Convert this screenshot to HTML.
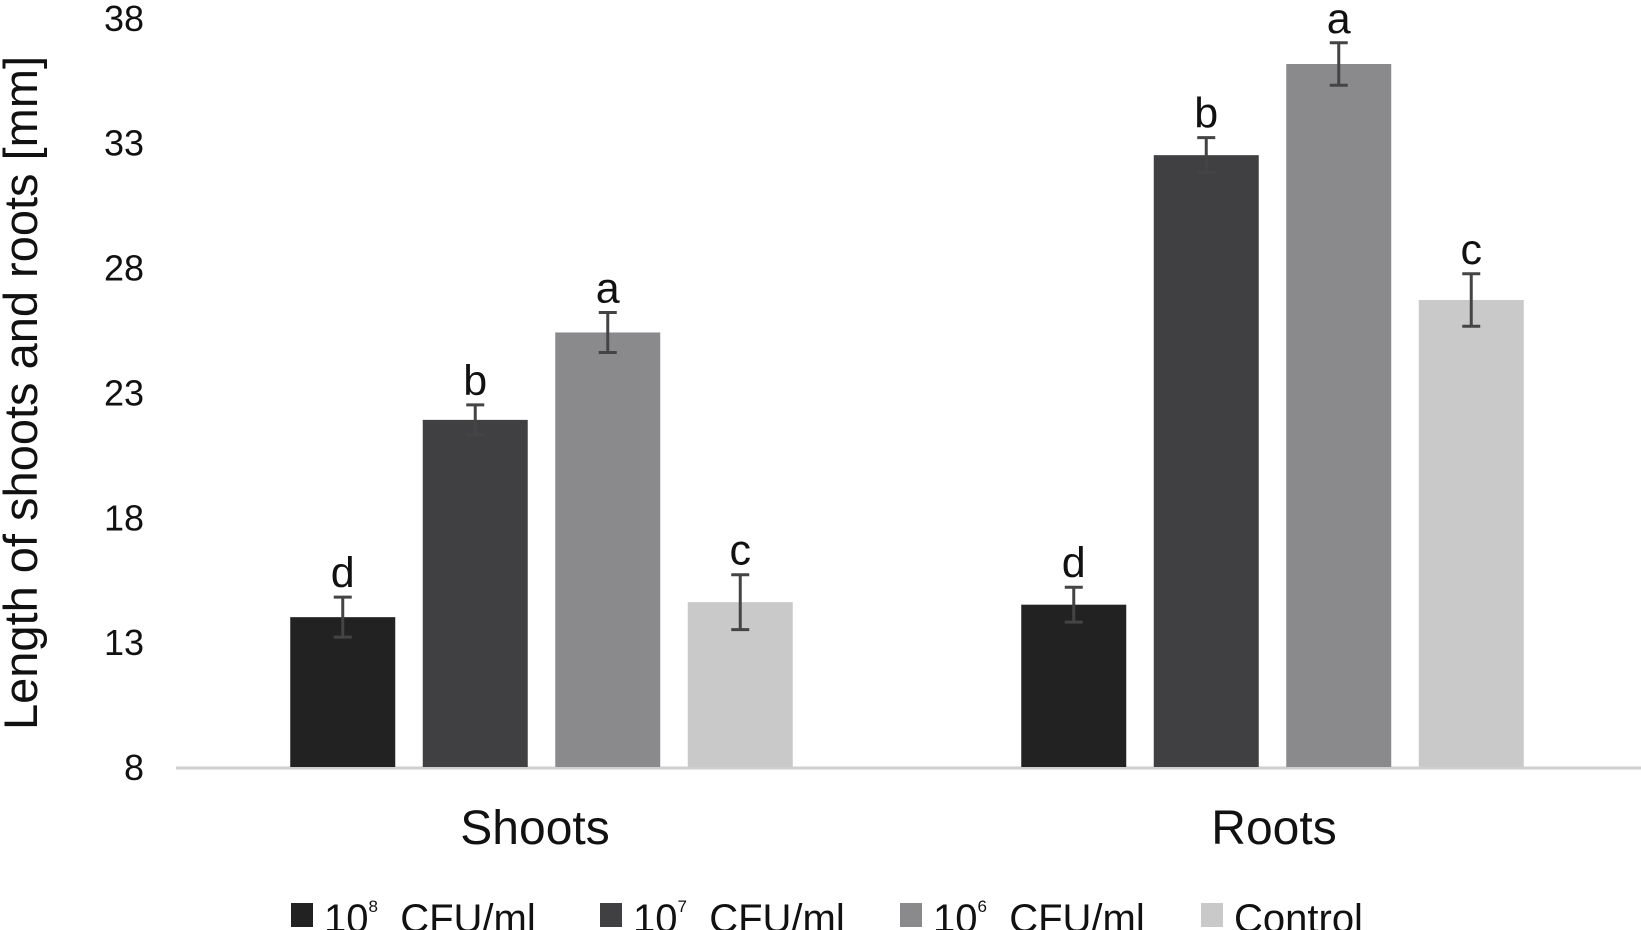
<!DOCTYPE html>
<html><head><meta charset="utf-8"><style>
body{margin:0;background:#fff;}
svg{display:block;font-family:"Liberation Sans",Arial,sans-serif;}
</style></head><body>
<svg id="chart" width="1641" height="930">
<g id="yaxis"></g>
<g id="bars"></g>
<text transform="translate(37,393) rotate(-90)" text-anchor="middle" font-size="47" fill="#111">Length of shoots and roots [mm]</text>
<g id="legend"></g>
</svg>
<script>
const categories=["Shoots","Roots"];
const seriesNames=["10^8","10^7","10^6","Control"];
const shootVals=[14.0,21.9,25.4,14.6];
const rootVals=[14.5,32.5,36.15,26.7];
const shootErr=[0.8,0.6,0.8,1.1];
const rootErr=[0.7,0.7,0.85,1.05];
const shootLetters=["d","b","a","c"];
const rootLetters=["d","b","a","c"];
const yTicks=[8,13,18,23,28,33,38];

const NS="http://www.w3.org/2000/svg";
const colors=["#222222","#404042","#8a8a8d","#c9c9ca"];
const y0=767,y1=17.8,vmin=8,vmax=38;
function y(v){return y0-(v-vmin)/(vmax-vmin)*(y0-y1);}
const groupCenters=[541,1272],barW=105,step=132.5;
const labelOffsets=[-6,2];
function mk(tag,attrs,parent){const e=document.createElementNS(NS,tag);for(const k in attrs)e.setAttribute(k,attrs[k]);parent.appendChild(e);return e;}
const ya=document.getElementById('yaxis');
yTicks.forEach(t=>{
 const tx=mk('text',{x:144,y:y(t)+13,'text-anchor':'end','font-size':36,fill:'#111'},ya);
 tx.textContent=t;
 
 
});
const ax=mk('line',{x1:176,x2:1641,y1:y0+1,y2:y0+1,stroke:'#cfcfcf','stroke-width':3},ya);


const bars=document.getElementById('bars');
const allVals=[shootVals,rootVals],allErr=[shootErr,rootErr],allLet=[shootLetters,rootLetters];
categories.forEach((c,ci)=>{
 const cx=groupCenters[ci];
 allVals[ci].forEach((v,si)=>{
  const x=cx-2*step+(step-barW)/2+si*step+0.5;
  const r=mk('rect',{x:x,y:y(v),width:barW,height:y0-y(v),fill:colors[si]},bars);
  
  
  const mx=x+barW/2,e=allErr[ci][si];
  const eg=mk('g',{stroke:'#444','stroke-width':3},bars);
  
  
  mk('line',{x1:mx,x2:mx,y1:y(v+e),y2:y(v-e)},eg);
  mk('line',{x1:mx-9,x2:mx+9,y1:y(v+e),y2:y(v+e)},eg);
  mk('line',{x1:mx-9,x2:mx+9,y1:y(v-e),y2:y(v-e)},eg);
  const l=mk('text',{x:mx,y:y(v+e)-10,'text-anchor':'middle','font-size':43,fill:'#111'},bars);
  l.textContent=allLet[ci][si];
  
  
 });
 const ct=mk('text',{x:cx+labelOffsets[ci],y:844,'text-anchor':'middle','font-size':48,fill:'#111'},bars);
 ct.textContent=c;
 
 
});
const lg=document.getElementById('legend');
const lx=[291,600,900,1201];
seriesNames.forEach((n,i)=>{
 const g=mk('g',{},lg);
 
 
 mk('rect',{x:lx[i],y:903,width:22,height:24,fill:colors[i]},g);
 const t=mk('text',{x:lx[i]+33,y:932,'font-size':40,fill:'#111'},g);
 if(n==='Control'){t.textContent='Control';}
 else{
  const p=n.split('^');
  const a=document.createElementNS(NS,'tspan');a.textContent=p[0];t.appendChild(a);
  const b=document.createElementNS(NS,'tspan');b.textContent=p[1];b.setAttribute('font-size','17');b.setAttribute('dy','-20');t.appendChild(b);
  const c2=document.createElementNS(NS,'tspan');c2.textContent='\u00a0 CFU/ml';c2.setAttribute('dy','20');t.appendChild(c2);
 }
});
</script>
</body></html>
